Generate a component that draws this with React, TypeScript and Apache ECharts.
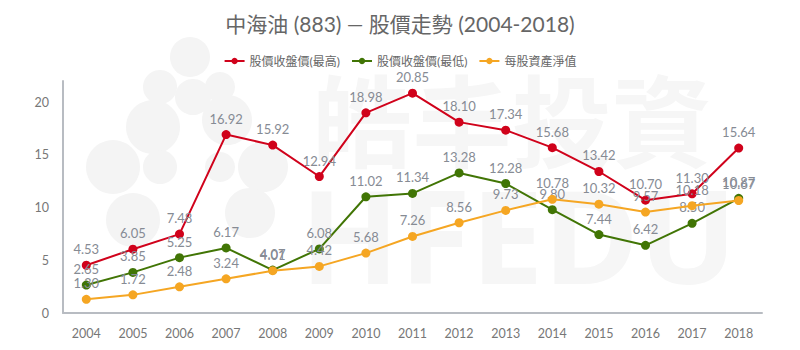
import React, { useEffect, useRef } from "react";
import * as echarts from "echarts";

const years = ["2004","2005","2006","2007","2008","2009","2010","2011","2012","2013","2014","2015","2016","2017","2018"];
const highPrice = [4.53, 6.05, 7.48, 16.92, 15.92, 12.94, 18.98, 20.85, 18.10, 17.34, 15.68, 13.42, 10.70, 11.30, 15.64];
const lowPrice = [2.65, 3.85, 5.25, 6.17, 4.07, 6.08, 11.02, 11.34, 13.28, 12.28, 9.80, 7.44, 6.42, 8.50, 10.87];
const navPerShare = [1.30, 1.72, 2.48, 3.24, 4.01, 4.42, 5.68, 7.26, 8.56, 9.73, 10.78, 10.32, 9.57, 10.18, 10.67];
const seriesNames = ["股價收盤價(最高)", "股價收盤價(最低)", "每股資產淨值"];
const colors = ["#D0021B", "#417505", "#F5A623"];

const FONT = "Lato, 'Noto Sans CJK TC', 'Noto Sans', sans-serif";

const bubbles: [number, number, number][] = [
  [190, 57, 20], [160, 87, 17], [193, 97, 18], [220, 87, 15],
  [153, 127, 27], [227, 120, 25], [113, 167, 27], [160, 167, 17],
  [220, 167, 15], [263, 167, 25], [133, 220, 27], [250, 213, 25],
];

export default function App() {
  const ref = useRef<HTMLDivElement>(null);
  useEffect(() => {
    document.body.style.margin = "0";
    if (!ref.current) return;
    const chart = echarts.init(ref.current, undefined, { renderer: "svg" });
    const wm: any[] = bubbles.map(([x, y, r]) => ({
      type: "circle",
      shape: { cx: x, cy: y, r },
      style: { fill: "#f4f4f4" },
      z: -10,
      silent: true,
    }));
    wm.push({
      type: "text",
      x: 312,
      y: 66,
      z: -10,
      silent: true,
      style: { text: "皓丰投資", font: "bold 100px 'Noto Sans CJK TC'", fill: "#f6f6f6" },
    });
    wm.push({
      type: "text",
      x: 300,
      y: 168,
      z: -10,
      silent: true,
      style: { text: "HFEDU", font: "bold 130px 'Noto Sans', sans-serif", fill: "#f6f6f6" },
    });
    chart.setOption({
      animation: false,
      backgroundColor: "#ffffff",
      color: colors,
      title: {
        text: "中海油 (883) — 股價走勢 (2004-2018)",
        left: "center",
        top: 8,
        textStyle: { fontFamily: FONT, fontSize: 21, fontWeight: "normal", color: "#666666" },
      },
      legend: {
        top: 50,
        left: "center",
        itemWidth: 20,
        itemHeight: 8,
        itemGap: 11,
        data: seriesNames,
        textStyle: { fontFamily: FONT, fontSize: 12, color: "#666666" },
      },
      graphic: wm,
      grid: { left: 63, right: 38, top: 81, bottom: 37 },
      xAxis: {
        type: "category",
        data: years,
        boundaryGap: true,
        axisLine: { lineStyle: { color: "#b8bcc2", width: 2 } },
        axisTick: { show: false },
        axisLabel: { fontFamily: FONT, fontSize: 12.5, color: "#777777", margin: 14 },
      },
      yAxis: {
        type: "value",
        min: 0,
        max: 22,
        interval: 5,
        axisLine: { show: true, lineStyle: { color: "#b8bcc2", width: 2 } },
        axisTick: { show: false },
        splitLine: { show: false },
        axisLabel: { fontFamily: FONT, fontSize: 12.5, color: "#777777", margin: 14, showMaxLabel: false },
      },
      series: [highPrice, lowPrice, navPerShare].map((d, i) => ({
        name: seriesNames[i],
        type: "line",
        data: d,
        symbol: "circle",
        symbolSize: 9,
        lineStyle: { width: 2, color: colors[i] },
        itemStyle: { color: colors[i] },
        label: {
          show: true,
          position: "top",
          distance: 5,
          fontFamily: FONT,
          fontSize: 13,
          color: "#868b94",
          formatter: (p: any) => Number(p.value).toFixed(2),
        },
        z: 2 + i,
      })),
    });
    return () => chart.dispose();
  }, []);
  return <div ref={ref} style={{ width: 800, height: 350 }} />;
}
